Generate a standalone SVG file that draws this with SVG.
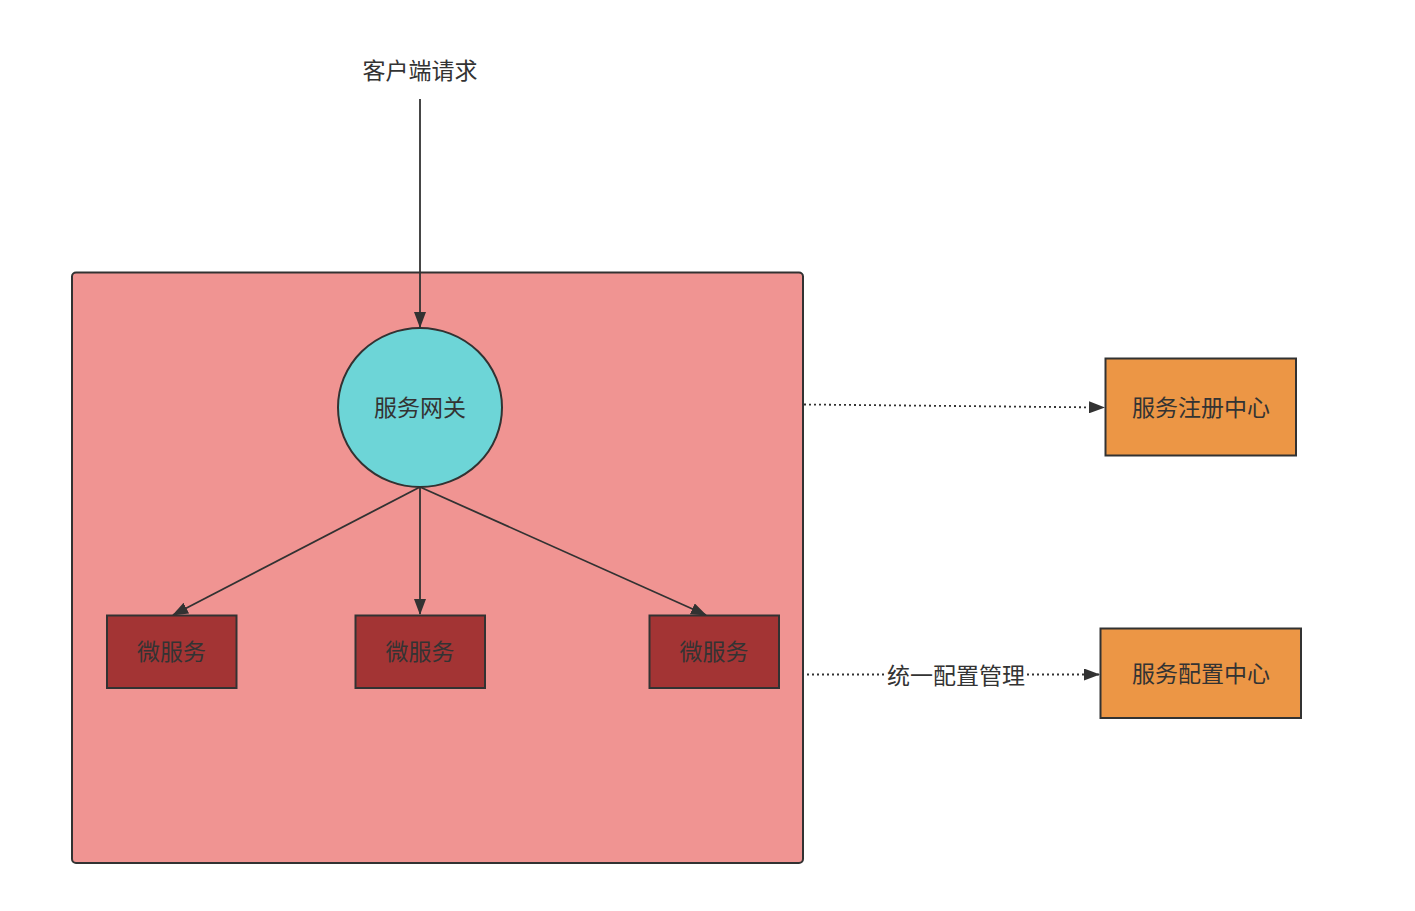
<svg xmlns="http://www.w3.org/2000/svg" width="1415" height="911" viewBox="0 0 1415 911">
  <defs>
    <marker id="arrow" viewBox="0 0 16 12" refX="15" refY="6" markerWidth="16" markerHeight="12" markerUnits="userSpaceOnUse" orient="auto">
      <path d="M0,0 L16,6 L0,12 Z" fill="#323232"/>
    </marker>
    <style>
      text { font-family: "Noto Sans CJK SC", "Noto Sans", sans-serif; font-size: 23px; fill: #333333; text-anchor: middle; dominant-baseline: central; }
      .edge { fill: none; stroke: #323232; stroke-width: 1.8; marker-end: url(#arrow); }
      .dotted { stroke-dasharray: 2 3; }
      .box { stroke: #323232; stroke-width: 2; }
      .svc { fill: #A33434; }
      .center { fill: #EC9645; }
    </style>
  </defs>
  <rect width="1415" height="911" fill="#ffffff"/>

  <g id="cluster">
    <rect x="72" y="272.5" width="731" height="590.5" rx="4" fill="#F09492" class="box"/>
  </g>

  <g id="client">
    <text x="420" y="69">客户端请求</text>
  </g>

  <g id="gateway">
    <ellipse cx="420" cy="407.5" rx="82" ry="79.5" fill="#6DD5D7" class="box"/>
    <text x="420" y="406">服务网关</text>
  </g>

  <g id="svc1">
    <rect x="107" y="615.5" width="129.5" height="72.5" class="box svc"/>
    <text x="171.5" y="650">微服务</text>
  </g>
  <g id="svc2">
    <rect x="355.5" y="615.5" width="129.5" height="72.5" class="box svc"/>
    <text x="420" y="650">微服务</text>
  </g>
  <g id="svc3">
    <rect x="649.5" y="615.5" width="129.5" height="72.5" class="box svc"/>
    <text x="714" y="650">微服务</text>
  </g>

  <g id="registry">
    <rect x="1105.5" y="358.5" width="190.5" height="97" class="box center"/>
    <text x="1201" y="406">服务注册中心</text>
  </g>
  <g id="config">
    <rect x="1100.5" y="628.5" width="200.5" height="89.5" class="box center"/>
    <text x="1201" y="672">服务配置中心</text>
  </g>

  <g id="connectors">
    <path class="edge" d="M420,99 L420,327"/>
    <path class="edge" d="M420,487 L173,615"/>
    <path class="edge" d="M420,487 L420,614"/>
    <path class="edge" d="M420,487 L706,615"/>
    <path class="edge dotted" d="M804,404.5 L1104,407.5"/>
    <path class="edge dotted" d="M807,674.5 L1099,674.5"/>
    <rect x="887" y="662" width="138" height="28" fill="#ffffff"/>
    <text x="956" y="674">统一配置管理</text>
  </g>
</svg>
